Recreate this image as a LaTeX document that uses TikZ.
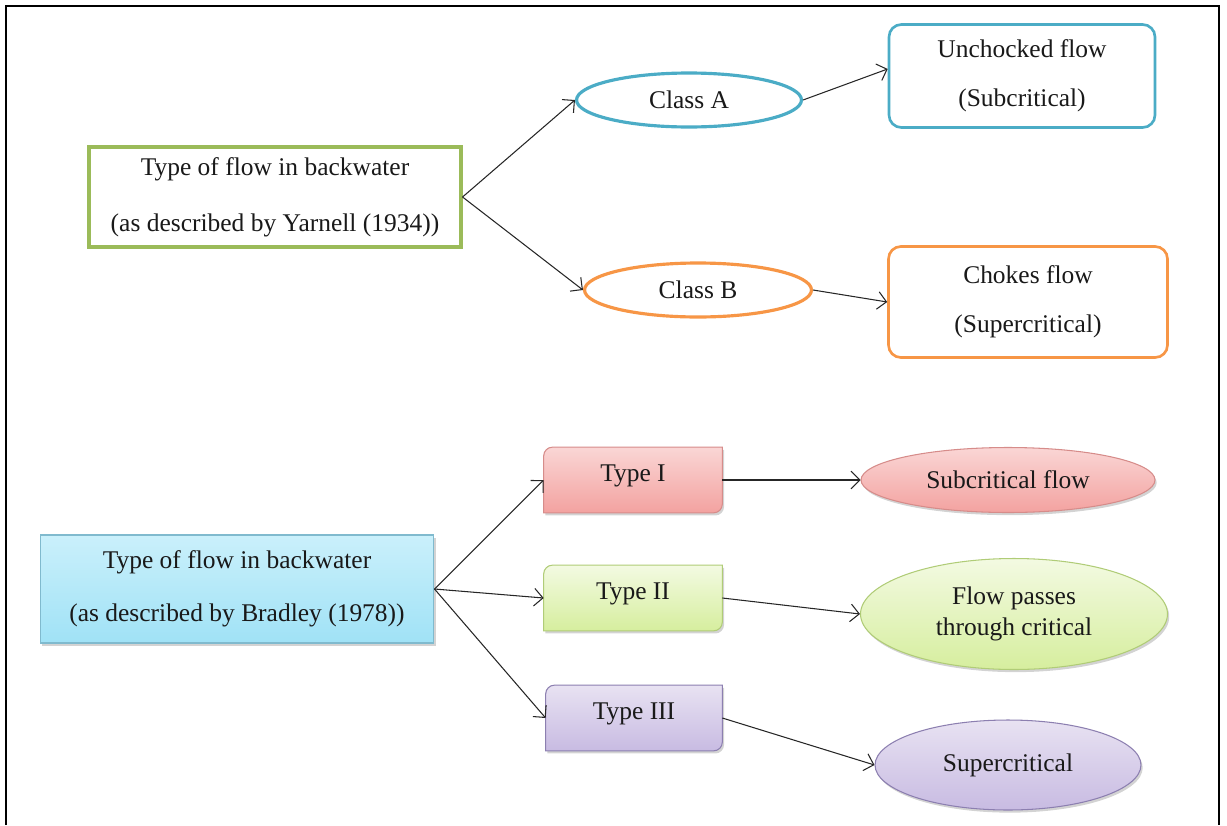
\documentclass[tikz,border=0pt]{standalone}
\usepackage{fontspec}
\setmainfont{Liberation Serif}
\usetikzlibrary{shapes.geometric,shadows,arrows.meta,backgrounds}
\definecolor{olivegreen}{HTML}{9BBB59}
\definecolor{tealblue}{HTML}{4BACC6}
\definecolor{orangeline}{HTML}{F79646}
\newcommand{\cornerr}{5pt}
\tikzset{
    flowtext/.style={font=\fontsize{14.5}{18}\selectfont,align=center,inner sep=0pt,text=black!90},
    outlinebox/.style={flowtext,draw,fill=white,rectangle},
    outlineoval/.style={flowtext,draw,fill=white,ellipse,line width=1.8pt},
    softshadow/.style={drop shadow={shadow xshift=1pt,shadow yshift=-1.5pt,opacity=0.35}},
    typelabel/.style={flowtext,rectangle,minimum width=3.56cm,minimum height=1.3cm,text depth=0.28cm},
    filledoval/.style={flowtext,ellipse,line width=0.6pt,softshadow},
    pinkfill/.style={draw={rgb,255:red,214;green,140;blue,138},top color={rgb,255:red,250;green,214;blue,213},bottom color={rgb,255:red,243;green,162;blue,160}},
    limefill/.style={draw={rgb,255:red,176;green,204;blue,119},top color={rgb,255:red,243;green,250;blue,226},bottom color={rgb,255:red,214;green,238;blue,158}},
    lilacfill/.style={draw={rgb,255:red,140;green,127;blue,176},top color={rgb,255:red,232;green,226;blue,242},bottom color={rgb,255:red,200;green,187;blue,226}},
    skyfill/.style={draw={rgb,255:red,128;green,186;blue,206},top color={rgb,255:red,202;green,240;blue,251},bottom color={rgb,255:red,160;green,226;blue,246}},
    flowarrow/.style={-{Straight Barb[length=5pt,width=10pt]},line width=0.6pt,black!85}
}
\begin{document}
\begin{tikzpicture}[x=0.02cm,y=-0.02cm]
                    \useasboundingbox (0,0) rectangle (1227,825);
                    \draw[line width=1.1pt] (6,825) -- (6,6) -- (1219,6) -- (1219,825);
                    \node[outlinebox,draw=olivegreen,line width=1.8pt,minimum width=7.44cm,minimum height=2cm] (yarnell) at (275,197)
                        {Type of flow in backwater\\[14pt](as described by Yarnell (1934))};
                    \node[outlineoval,draw=tealblue,minimum width=4.5cm,minimum height=1.08cm] (classA) at (689,100) {Class A};
                    \node[outlineoval,draw=orangeline,minimum width=4.54cm,minimum height=1.08cm] (classB) at (698,290) {Class B};
                    \node[outlinebox,draw=tealblue,line width=1.5pt,rounded corners=7pt,minimum width=5.32cm,minimum height=2.06cm] (unchoked) at (1022,76)
                        {Unchocked flow\\[10pt](Subcritical)};
                    \node[outlinebox,draw=orangeline,line width=1.5pt,rounded corners=7pt,minimum width=5.58cm,minimum height=2.22cm] (chokes) at (1028,302)
                        {Chokes flow\\[10pt](Supercritical)};
                    \node[flowtext,rectangle,skyfill,line width=0.6pt,softshadow,
                        minimum width=7.88cm,minimum height=2.16cm] (bradley) at (237,589)
                        {Type of flow in backwater\\[12pt](as described by Bradley (1978))};
                    \node[typelabel] (typeI) at (633,480) {Type I};
                    \node[typelabel] (typeII) at (633,598) {Type II};
                    \node[typelabel,minimum width=3.52cm] (typeIII) at (634,718) {Type III};
                    \begin{scope}[on background layer]
                    \foreach \t/\c in {typeI/pinkfill,typeII/limefill,typeIII/lilacfill}{
                    \draw[\c,line width=0.6pt,softshadow] (\t.south west) -- ([yshift=-\cornerr]\t.north west) to[out=90,in=180] ([xshift=\cornerr]\t.north west)
                        -- (\t.north east) -- ([yshift=\cornerr]\t.south east) to[out=-90,in=0] ([xshift=-\cornerr]\t.south east) -- cycle;
                    }
                    \end{scope}
                    \node[filledoval,pinkfill,minimum width=5.88cm,minimum height=1.3cm] (subcrit) at (1008,480) {Subcritical flow};
                    \node[filledoval,limefill,minimum width=6.14cm,minimum height=2.22cm] (passes) at (1014,614) {Flow passes\\through critical};
                    \node[filledoval,lilacfill,minimum width=5.32cm,minimum height=1.8cm] (supercrit) at (1008,765) {Supercritical};
                    \draw[flowarrow] (yarnell.east) -- (classA.west);
                    \draw[flowarrow] (yarnell.east) -- (classB.west);
                    \draw[flowarrow] (classA.east) -- (unchoked.177);
                    \draw[flowarrow] (classB.east) -- (chokes.west);
                    \foreach \t/\s in {typeI/subcrit,typeII/passes,typeIII/supercrit}{
                    \draw[flowarrow] (bradley.east) -- (\t.west);
                    \draw[flowarrow] (\t.east) -- (\s.west);
                    }
                    \end{tikzpicture}
\end{document}
